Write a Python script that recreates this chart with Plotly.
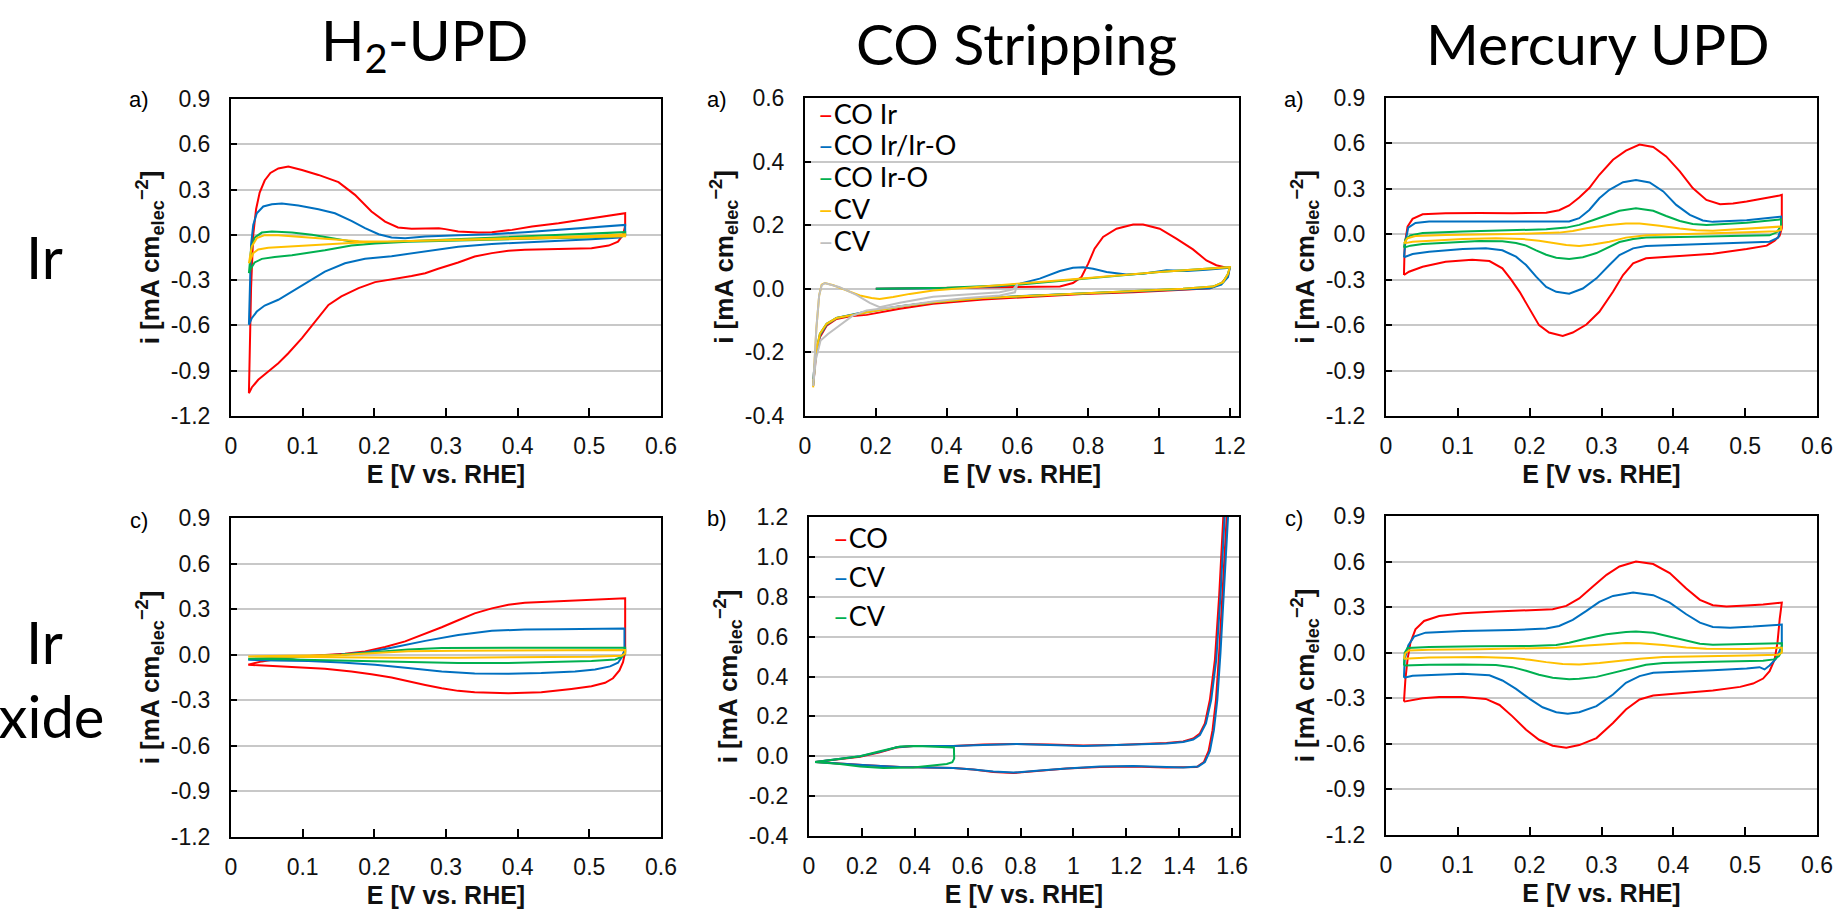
import plotly.graph_objects as go

W, H = 1841, 911
RED, BLUE, GREEN, GOLD, GRAY = "#FF0000", "#0070C0", "#00B050", "#FFC000", "#BFBFBF"

# ---------------- Panel a) H2-UPD, Ir ----------------
h2ir_red_E = [0.025, 0.026, 0.028, 0.031, 0.035, 0.040, 0.047, 0.055, 0.066, 0.080, 0.099, 0.122, 0.150, 0.173, 0.196, 0.215, 0.233, 0.252, 0.271, 0.290, 0.299, 0.317, 0.345, 0.364, 0.392, 0.420, 0.457, 0.494, 0.527, 0.550,
              0.550, 0.547, 0.540, 0.527, 0.503, 0.457, 0.410, 0.387, 0.364, 0.340, 0.317, 0.289, 0.271, 0.252, 0.224, 0.201, 0.178, 0.154, 0.136, 0.117, 0.099, 0.080, 0.066, 0.052, 0.038, 0.029, 0.025]
h2ir_red_i = [-1.049, -0.75, -0.35, 0.0, 0.17, 0.28, 0.36, 0.41, 0.44, 0.453, 0.430, 0.397, 0.349, 0.265, 0.155, 0.088, 0.049, 0.040, 0.044, 0.044, 0.038, 0.022, 0.015, 0.018, 0.033, 0.055, 0.077, 0.104, 0.128, 0.143,
              0.06, 0.0, -0.045, -0.071, -0.088, -0.093, -0.099, -0.106, -0.121, -0.143, -0.183, -0.225, -0.254, -0.272, -0.294, -0.313, -0.353, -0.408, -0.464, -0.574, -0.684, -0.784, -0.850, -0.905, -0.960, -1.011, -1.049]
h2ir_blue_E = [0.025, 0.026, 0.028, 0.031, 0.036, 0.045, 0.057, 0.071, 0.094, 0.122, 0.145, 0.168, 0.187, 0.206, 0.224, 0.243, 0.271, 0.317, 0.364, 0.410, 0.457, 0.503, 0.550,
               0.550, 0.543, 0.503, 0.457, 0.410, 0.364, 0.317, 0.271, 0.224, 0.187, 0.159, 0.131, 0.108, 0.085, 0.066, 0.047, 0.036, 0.029, 0.025]
h2ir_blue_i = [-0.596, -0.35, -0.066, 0.066, 0.143, 0.188, 0.203, 0.208, 0.194, 0.170, 0.143, 0.093, 0.044, 0.004, -0.018, -0.022, -0.011, -0.002, 0.004, 0.018, 0.033, 0.051, 0.066,
               0.0, -0.018, -0.029, -0.038, -0.046, -0.060, -0.079, -0.110, -0.141, -0.159, -0.188, -0.243, -0.309, -0.380, -0.430, -0.468, -0.508, -0.552, -0.596]
h2ir_green_E = [0.025, 0.028, 0.033, 0.043, 0.057, 0.085, 0.113, 0.140, 0.168, 0.201, 0.271, 0.364, 0.457, 0.550,
                0.550, 0.527, 0.410, 0.317, 0.247, 0.201, 0.168, 0.131, 0.108, 0.085, 0.061, 0.043, 0.033, 0.028, 0.025]
h2ir_green_i = [-0.254, -0.099, -0.018, 0.015, 0.022, 0.015, 0.0, -0.022, -0.044, -0.051, -0.038, -0.020, -0.002, 0.018,
                0.0, -0.015, -0.026, -0.038, -0.046, -0.057, -0.071, -0.102, -0.121, -0.135, -0.146, -0.159, -0.183, -0.221, -0.254]
h2ir_gold_E = [0.025, 0.029, 0.036, 0.047, 0.066, 0.094, 0.131, 0.178, 0.224, 0.317, 0.410, 0.503, 0.550,
               0.550, 0.503, 0.410, 0.317, 0.247, 0.201, 0.154, 0.108, 0.075, 0.052, 0.038, 0.031, 0.025]
h2ir_gold_i = [-0.188, -0.077, -0.022, -0.002, -0.002, -0.011, -0.026, -0.042, -0.044, -0.033, -0.020, -0.007, 0.004,
               -0.009, -0.015, -0.024, -0.033, -0.040, -0.046, -0.057, -0.071, -0.079, -0.086, -0.097, -0.121, -0.188]

# ---------------- Panel a) CO stripping, Ir ----------------
coir_red_E = [0.200, 0.400, 0.550, 0.645, 0.720, 0.757, 0.781, 0.800, 0.818, 0.842, 0.880, 0.927, 0.955, 1.002, 1.049, 1.096, 1.134, 1.162, 1.191, 1.200,
              1.195, 1.176, 1.144, 1.068, 0.927, 0.785, 0.645, 0.503, 0.362, 0.268, 0.174, 0.127, 0.089, 0.061, 0.042, 0.031, 0.023]
coir_red_i = [0.0, 0.002, 0.004, 0.004, 0.007, 0.018, 0.037, 0.079, 0.126, 0.163, 0.189, 0.202, 0.202, 0.189, 0.158, 0.124, 0.089, 0.074, 0.066, 0.068,
              0.042, 0.016, 0.002, -0.003, -0.011, -0.016, -0.024, -0.034, -0.047, -0.063, -0.082, -0.086, -0.095, -0.116, -0.152, -0.210, -0.305]
coir_blue_E = [0.200, 0.400, 0.550, 0.607, 0.663, 0.720, 0.757, 0.786, 0.814, 0.852, 0.908, 0.955, 1.021, 1.078, 1.134, 1.200,
               1.195, 1.176, 1.144, 1.068, 0.927, 0.785, 0.645, 0.503, 0.362, 0.268, 0.174, 0.127, 0.089, 0.061, 0.042, 0.031, 0.023]
coir_blue_i = [0.0, 0.002, 0.008, 0.016, 0.032, 0.056, 0.066, 0.068, 0.063, 0.053, 0.045, 0.047, 0.058, 0.056, 0.060, 0.066,
               0.037, 0.013, 0.002, -0.002, -0.008, -0.015, -0.021, -0.029, -0.042, -0.055, -0.071, -0.082, -0.092, -0.113, -0.147, -0.205, -0.284]
coir_green_E = [0.200, 0.400, 0.600, 0.800, 1.000, 1.200,
                1.195, 1.181, 1.153, 1.068, 0.927, 0.785, 0.645, 0.503, 0.362, 0.268, 0.174, 0.127, 0.089, 0.061, 0.042, 0.031, 0.023]
coir_green_i = [0.0, 0.003, 0.013, 0.034, 0.053, 0.068,
                0.047, 0.021, 0.007, 0.0, -0.007, -0.014, -0.021, -0.029, -0.042, -0.056, -0.074, -0.084, -0.092, -0.110, -0.142, -0.200, -0.305]
coir_gold_E = [0.023, 0.032, 0.040, 0.047, 0.056, 0.080, 0.117, 0.155, 0.188, 0.211, 0.249, 0.296, 0.362, 0.456, 0.600, 0.800, 1.000, 1.200,
               1.195, 1.181, 1.153, 1.068, 0.927, 0.785, 0.645, 0.503, 0.362, 0.268, 0.174, 0.127, 0.089, 0.061, 0.042, 0.031, 0.023]
coir_gold_i = [-0.310, -0.126, -0.021, 0.013, 0.018, 0.011, -0.005, -0.021, -0.029, -0.032, -0.026, -0.016, -0.005, 0.004, 0.016, 0.034, 0.053, 0.068,
               0.047, 0.021, 0.007, 0.0, -0.007, -0.014, -0.021, -0.029, -0.042, -0.056, -0.074, -0.084, -0.092, -0.110, -0.142, -0.200, -0.305]
coir_gray_E = [0.023, 0.032, 0.040, 0.047, 0.056, 0.098, 0.145, 0.183, 0.211, 0.268, 0.362, 0.456, 0.550, 0.588, 0.600,
               0.593, 0.550, 0.456, 0.362, 0.268, 0.174, 0.136, 0.098, 0.065, 0.044, 0.031, 0.023]
coir_gray_i = [-0.305, -0.126, -0.021, 0.011, 0.018, 0.005, -0.019, -0.044, -0.058, -0.044, -0.025, -0.017, -0.011, -0.002, 0.015,
               -0.011, -0.021, -0.029, -0.040, -0.055, -0.068, -0.084, -0.116, -0.142, -0.163, -0.221, -0.305]

# ---------------- Panel a) Mercury UPD, Ir ----------------
hgir_red_E = [0.025, 0.026, 0.030, 0.037, 0.051, 0.083, 0.130, 0.176, 0.223, 0.241, 0.255, 0.269, 0.283, 0.297, 0.316, 0.334, 0.353, 0.372, 0.390, 0.409, 0.427, 0.446, 0.465, 0.483, 0.502, 0.525, 0.548, 0.551,
              0.551, 0.548, 0.541, 0.530, 0.502, 0.455, 0.409, 0.362, 0.344, 0.330, 0.316, 0.297, 0.279, 0.260, 0.246, 0.227, 0.213, 0.200, 0.186, 0.174, 0.162, 0.144, 0.120, 0.083, 0.051, 0.032, 0.025]
hgir_red_i = [-0.269, -0.071, 0.051, 0.102, 0.132, 0.139, 0.141, 0.139, 0.143, 0.159, 0.190, 0.243, 0.305, 0.393, 0.492, 0.552, 0.592, 0.576, 0.514, 0.415, 0.305, 0.227, 0.199, 0.203, 0.216, 0.234, 0.256, 0.260,
              0.040, -0.009, -0.042, -0.075, -0.097, -0.128, -0.141, -0.159, -0.192, -0.269, -0.380, -0.512, -0.596, -0.649, -0.671, -0.649, -0.600, -0.490, -0.380, -0.298, -0.225, -0.177, -0.168, -0.181, -0.214, -0.247, -0.269]
hgir_blue_E = [0.025, 0.027, 0.031, 0.041, 0.060, 0.130, 0.200, 0.255, 0.269, 0.283, 0.297, 0.311, 0.330, 0.348, 0.367, 0.386, 0.404, 0.423, 0.441, 0.455, 0.502, 0.548, 0.550,
               0.550, 0.546, 0.534, 0.502, 0.455, 0.409, 0.362, 0.344, 0.325, 0.311, 0.293, 0.274, 0.255, 0.237, 0.223, 0.209, 0.195, 0.181, 0.162, 0.139, 0.107, 0.060, 0.037, 0.025]
hgir_blue_i = [-0.152, -0.049, 0.044, 0.075, 0.084, 0.084, 0.082, 0.084, 0.106, 0.161, 0.238, 0.294, 0.344, 0.358, 0.342, 0.283, 0.194, 0.128, 0.091, 0.082, 0.093, 0.113, 0.117,
               0.051, -0.022, -0.049, -0.055, -0.064, -0.071, -0.077, -0.093, -0.137, -0.203, -0.291, -0.358, -0.393, -0.380, -0.347, -0.280, -0.203, -0.148, -0.106, -0.093, -0.097, -0.115, -0.130, -0.152]
hgir_green_E = [0.025, 0.027, 0.034, 0.051, 0.107, 0.176, 0.223, 0.251, 0.269, 0.288, 0.307, 0.325, 0.348, 0.372, 0.390, 0.409, 0.427, 0.446, 0.502, 0.548, 0.550,
                0.550, 0.544, 0.534, 0.502, 0.455, 0.409, 0.362, 0.344, 0.325, 0.311, 0.293, 0.274, 0.255, 0.237, 0.223, 0.209, 0.195, 0.181, 0.162, 0.130, 0.083, 0.051, 0.034, 0.025]
hgir_green_i = [-0.088, -0.033, -0.007, 0.009, 0.018, 0.026, 0.033, 0.044, 0.062, 0.093, 0.126, 0.155, 0.172, 0.155, 0.121, 0.088, 0.068, 0.062, 0.077, 0.097, 0.099,
                0.057, 0.013, -0.007, -0.011, -0.015, -0.018, -0.022, -0.031, -0.051, -0.082, -0.124, -0.152, -0.163, -0.155, -0.135, -0.106, -0.075, -0.057, -0.046, -0.044, -0.053, -0.064, -0.075, -0.088]
hgir_gold_E = [0.025, 0.030, 0.041, 0.083, 0.176, 0.241, 0.260, 0.279, 0.307, 0.334, 0.353, 0.381, 0.409, 0.432, 0.455, 0.502, 0.548, 0.550,
               0.550, 0.544, 0.502, 0.455, 0.409, 0.362, 0.334, 0.311, 0.288, 0.269, 0.251, 0.232, 0.213, 0.190, 0.153, 0.107, 0.060, 0.037, 0.025]
hgir_gold_i = [-0.060, -0.026, -0.011, -0.004, 0.002, 0.011, 0.022, 0.040, 0.060, 0.071, 0.071, 0.057, 0.038, 0.026, 0.024, 0.035, 0.049, 0.051,
               0.029, 0.020, 0.013, 0.007, 0.0, -0.007, -0.022, -0.049, -0.068, -0.077, -0.071, -0.055, -0.042, -0.031, -0.026, -0.031, -0.042, -0.049, -0.060]

# ---------------- Panel c) H2-UPD, Ir oxide ----------------
h2ox_red_E = [0.024, 0.043, 0.066, 0.094, 0.131, 0.159, 0.187, 0.215, 0.243, 0.271, 0.294, 0.317, 0.340, 0.364, 0.387, 0.410, 0.457, 0.503, 0.550,
              0.550, 0.547, 0.542, 0.533, 0.522, 0.503, 0.475, 0.433, 0.387, 0.340, 0.317, 0.294, 0.271, 0.247, 0.224, 0.196, 0.168, 0.131, 0.085, 0.052, 0.024]
h2ox_red_i = [-0.066, -0.044, -0.026, -0.013, -0.002, 0.007, 0.022, 0.051, 0.088, 0.137, 0.181, 0.227, 0.272, 0.305, 0.329, 0.342, 0.353, 0.360, 0.371,
              0.018, -0.049, -0.104, -0.155, -0.185, -0.208, -0.225, -0.247, -0.254, -0.247, -0.238, -0.221, -0.199, -0.174, -0.150, -0.128, -0.110, -0.093, -0.082, -0.073, -0.066]
h2ox_blue_E = [0.024, 0.061, 0.108, 0.154, 0.187, 0.224, 0.271, 0.317, 0.364, 0.410, 0.457, 0.503, 0.549,
               0.549, 0.545, 0.540, 0.529, 0.508, 0.480, 0.433, 0.387, 0.340, 0.294, 0.247, 0.201, 0.154, 0.108, 0.061, 0.024]
h2ox_blue_i = [-0.033, -0.024, -0.011, 0.002, 0.015, 0.046, 0.091, 0.130, 0.157, 0.166, 0.168, 0.168, 0.172,
               0.029, -0.018, -0.053, -0.077, -0.097, -0.110, -0.121, -0.126, -0.124, -0.110, -0.088, -0.066, -0.051, -0.042, -0.038, -0.033]
h2ox_green_E = [0.024, 0.085, 0.154, 0.201, 0.247, 0.294, 0.364, 0.457, 0.550,
                0.550, 0.545, 0.536, 0.503, 0.457, 0.387, 0.317, 0.247, 0.178, 0.108, 0.024]
h2ox_green_i = [-0.026, -0.018, 0.0, 0.020, 0.035, 0.044, 0.046, 0.046, 0.046,
                0.007, -0.015, -0.031, -0.042, -0.049, -0.055, -0.055, -0.049, -0.040, -0.033, -0.026]
h2ox_gold_E = [0.024, 0.085, 0.154, 0.201, 0.247, 0.317, 0.410, 0.503, 0.550,
               0.550, 0.545, 0.503, 0.410, 0.317, 0.224, 0.131, 0.061, 0.024]
h2ox_gold_i = [-0.011, -0.009, -0.002, 0.011, 0.022, 0.026, 0.029, 0.029, 0.031,
               0.009, -0.007, -0.013, -0.018, -0.020, -0.020, -0.018, -0.013, -0.011]

# ---------------- Panel b) CO stripping, Ir oxide ----------------
coox_red_E = [0.023, 0.092, 0.193, 0.268, 0.331, 0.394, 0.546, 0.659, 0.785, 0.911, 1.037, 1.163, 1.289, 1.352, 1.415, 1.453, 1.478, 1.497, 1.516, 1.535, 1.551, 1.564, 1.569,
              1.582, 1.574, 1.564, 1.551, 1.539, 1.526, 1.511, 1.493, 1.466, 1.415, 1.352, 1.226, 1.100, 0.974, 0.873, 0.773, 0.697, 0.621, 0.546, 0.470, 0.344, 0.218, 0.117, 0.023]
coox_red_i = [-0.029, -0.019, -0.002, 0.020, 0.044, 0.052, 0.052, 0.059, 0.062, 0.059, 0.054, 0.057, 0.061, 0.066, 0.074, 0.089, 0.114, 0.165, 0.283, 0.485, 0.805, 1.125, 1.26,
              1.26, 1.057, 0.805, 0.519, 0.283, 0.131, 0.027, -0.029, -0.054, -0.057, -0.057, -0.051, -0.054, -0.062, -0.074, -0.084, -0.079, -0.066, -0.059, -0.057, -0.054, -0.045, -0.035, -0.029]
coox_blue_E = [0.023, 0.092, 0.193, 0.268, 0.331, 0.394, 0.546, 0.659, 0.785, 0.911, 1.037, 1.163, 1.289, 1.352, 1.415, 1.453, 1.478, 1.501, 1.521, 1.540, 1.556, 1.569, 1.574,
               1.587, 1.579, 1.569, 1.556, 1.544, 1.531, 1.516, 1.497, 1.472, 1.415, 1.352, 1.226, 1.100, 0.974, 0.873, 0.773, 0.697, 0.621, 0.546, 0.470, 0.344, 0.218, 0.117, 0.023]
coox_blue_i = [-0.029, -0.017, 0.0, 0.022, 0.045, 0.052, 0.051, 0.057, 0.061, 0.057, 0.052, 0.056, 0.059, 0.064, 0.071, 0.084, 0.106, 0.165, 0.283, 0.485, 0.805, 1.125, 1.26,
               1.26, 1.057, 0.805, 0.519, 0.283, 0.131, 0.027, -0.029, -0.051, -0.056, -0.054, -0.049, -0.052, -0.061, -0.072, -0.082, -0.077, -0.066, -0.059, -0.057, -0.054, -0.045, -0.035, -0.029]
coox_green_E = [0.023, 0.092, 0.193, 0.268, 0.344, 0.407, 0.470, 0.548,
                0.549, 0.542, 0.521, 0.470, 0.394, 0.281, 0.193, 0.117, 0.023]
coox_green_i = [-0.029, -0.017, 0.0, 0.025, 0.049, 0.052, 0.047, 0.044,
                -0.012, -0.030, -0.039, -0.047, -0.057, -0.059, -0.051, -0.039, -0.029]

# ---------------- Panel c) Mercury UPD, Ir oxide ----------------
hgox_red_E = [0.025, 0.027, 0.030, 0.034, 0.041, 0.053, 0.074, 0.107, 0.153, 0.200, 0.232, 0.251, 0.269, 0.288, 0.307, 0.325, 0.348, 0.372, 0.395, 0.418, 0.437, 0.455, 0.474, 0.502, 0.525, 0.551,
              0.548, 0.545, 0.541, 0.534, 0.525, 0.511, 0.493, 0.455, 0.409, 0.372, 0.353, 0.334, 0.316, 0.293, 0.269, 0.251, 0.232, 0.213, 0.195, 0.176, 0.158, 0.139, 0.107, 0.074, 0.051, 0.025]
hgox_red_i = [-0.322, -0.176, -0.044, 0.066, 0.154, 0.209, 0.242, 0.260, 0.271, 0.280, 0.286, 0.308, 0.357, 0.436, 0.513, 0.568, 0.601, 0.584, 0.524, 0.423, 0.348, 0.313, 0.304, 0.311, 0.317, 0.330,
              0.220, 0.066, -0.044, -0.121, -0.170, -0.203, -0.225, -0.249, -0.267, -0.282, -0.308, -0.374, -0.463, -0.562, -0.608, -0.626, -0.612, -0.573, -0.507, -0.419, -0.344, -0.304, -0.291, -0.291, -0.300, -0.322]
hgox_blue_E = [0.025, 0.026, 0.031, 0.039, 0.055, 0.107, 0.176, 0.223, 0.241, 0.260, 0.279, 0.297, 0.316, 0.344, 0.372, 0.395, 0.418, 0.437, 0.455, 0.479, 0.511, 0.551,
               0.551, 0.548, 0.543, 0.534, 0.527, 0.520, 0.502, 0.455, 0.409, 0.372, 0.353, 0.334, 0.316, 0.293, 0.269, 0.253, 0.237, 0.218, 0.200, 0.181, 0.162, 0.144, 0.107, 0.060, 0.037, 0.025]
hgox_blue_i = [-0.165, -0.044, 0.048, 0.106, 0.132, 0.143, 0.150, 0.159, 0.176, 0.216, 0.275, 0.335, 0.374, 0.396, 0.379, 0.330, 0.253, 0.198, 0.170, 0.165, 0.172, 0.185,
               0.044, 0.011, -0.040, -0.084, -0.110, -0.095, -0.104, -0.115, -0.123, -0.132, -0.154, -0.198, -0.275, -0.352, -0.392, -0.401, -0.392, -0.359, -0.304, -0.238, -0.183, -0.148, -0.139, -0.145, -0.152, -0.165]
hgox_green_E = [0.025, 0.026, 0.030, 0.060, 0.130, 0.200, 0.237, 0.255, 0.279, 0.307, 0.334, 0.348, 0.372, 0.395, 0.418, 0.437, 0.455, 0.502, 0.551,
                0.551, 0.547, 0.540, 0.525, 0.455, 0.386, 0.362, 0.339, 0.316, 0.293, 0.269, 0.255, 0.232, 0.213, 0.195, 0.176, 0.153, 0.107, 0.060, 0.025]
hgox_green_i = [-0.084, 0.0, 0.031, 0.037, 0.042, 0.044, 0.051, 0.066, 0.093, 0.121, 0.137, 0.139, 0.132, 0.106, 0.077, 0.059, 0.053, 0.055, 0.062,
                0.011, -0.022, -0.044, -0.053, -0.059, -0.068, -0.079, -0.104, -0.134, -0.159, -0.172, -0.174, -0.165, -0.145, -0.119, -0.095, -0.081, -0.077, -0.079, -0.084]
hgox_gold_E = [0.025, 0.027, 0.032, 0.060, 0.130, 0.200, 0.237, 0.269, 0.307, 0.334, 0.353, 0.386, 0.418, 0.446, 0.502, 0.551,
               0.551, 0.546, 0.502, 0.455, 0.386, 0.353, 0.325, 0.297, 0.269, 0.246, 0.223, 0.200, 0.176, 0.130, 0.060, 0.025]
hgox_gold_i = [-0.040, -0.004, 0.015, 0.020, 0.022, 0.026, 0.033, 0.044, 0.057, 0.064, 0.062, 0.051, 0.035, 0.026, 0.024, 0.033,
               0.0, -0.013, -0.018, -0.022, -0.029, -0.040, -0.055, -0.068, -0.077, -0.075, -0.062, -0.046, -0.035, -0.029, -0.031, -0.040]

# ---------------- Axis ticks and labels ----------------
upd_x_ticks = [0, 0.1, 0.2, 0.3, 0.4, 0.5, 0.6]
upd_x_labels = ["0", "0.1", "0.2", "0.3", "0.4", "0.5", "0.6"]
upd_y_ticks = [-1.2, -0.9, -0.6, -0.3, 0.0, 0.3, 0.6, 0.9]
upd_y_labels = ["-1.2", "-0.9", "-0.6", "-0.3", "0.0", "0.3", "0.6", "0.9"]
co_top_x_ticks = [0, 0.2, 0.4, 0.6, 0.8, 1.0, 1.2]
co_top_x_labels = ["0", "0.2", "0.4", "0.6", "0.8", "1", "1.2"]
co_top_y_ticks = [-0.4, -0.2, 0.0, 0.2, 0.4, 0.6]
co_top_y_labels = ["-0.4", "-0.2", "0.0", "0.2", "0.4", "0.6"]
co_bot_x_ticks = [0, 0.2, 0.4, 0.6, 0.8, 1.0, 1.2, 1.4, 1.6]
co_bot_x_labels = ["0", "0.2", "0.4", "0.6", "0.8", "1", "1.2", "1.4", "1.6"]
co_bot_y_ticks = [-0.4, -0.2, 0.0, 0.2, 0.4, 0.6, 0.8, 1.0, 1.2]
co_bot_y_labels = ["-0.4", "-0.2", "0.0", "0.2", "0.4", "0.6", "0.8", "1.0", "1.2"]

column_titles = ["H<sub>2</sub>-UPD", "CO Stripping", "Mercury UPD"]
row_titles = ["Ir", "Ir", "oxide"]
panel_letters = ["a)", "a)", "a)", "c)", "b)", "c)"]
co_top_legend = ["CO Ir", "CO Ir/Ir-O", "CO Ir-O", "CV", "CV"]
co_bot_legend = ["CO", "CV", "CV"]

# ---------------- Layout geometry (pixels) ----------------
panels = [  # (x0, x1, y0_top, y1_bottom)
    (231, 661, 99, 416),
    (805, 1239, 98, 416),
    (1386, 1817, 98, 416),
    (231, 661, 518, 837),
    (809, 1239, 517, 836),
    (1386, 1817, 516, 835),
]

fig = go.Figure()

series = [
    (1, [(h2ir_red_E, h2ir_red_i, RED), (h2ir_blue_E, h2ir_blue_i, BLUE), (h2ir_green_E, h2ir_green_i, GREEN), (h2ir_gold_E, h2ir_gold_i, GOLD)]),
    (2, [(coir_red_E, coir_red_i, RED), (coir_blue_E, coir_blue_i, BLUE), (coir_green_E, coir_green_i, GREEN), (coir_gold_E, coir_gold_i, GOLD), (coir_gray_E, coir_gray_i, GRAY)]),
    (3, [(hgir_red_E, hgir_red_i, RED), (hgir_blue_E, hgir_blue_i, BLUE), (hgir_green_E, hgir_green_i, GREEN), (hgir_gold_E, hgir_gold_i, GOLD)]),
    (4, [(h2ox_red_E, h2ox_red_i, RED), (h2ox_blue_E, h2ox_blue_i, BLUE), (h2ox_green_E, h2ox_green_i, GREEN), (h2ox_gold_E, h2ox_gold_i, GOLD)]),
    (5, [(coox_red_E, coox_red_i, RED), (coox_blue_E, coox_blue_i, BLUE), (coox_green_E, coox_green_i, GREEN)]),
    (6, [(hgox_red_E, hgox_red_i, RED), (hgox_blue_E, hgox_blue_i, BLUE), (hgox_green_E, hgox_green_i, GREEN), (hgox_gold_E, hgox_gold_i, GOLD)]),
]
for n, lst in series:
    xa = "x" if n == 1 else f"x{n}"
    ya = "y" if n == 1 else f"y{n}"
    for E, I, c in lst:
        fig.add_trace(go.Scatter(x=E, y=I, mode="lines", line=dict(color=c, width=2),
                                 xaxis=xa, yaxis=ya, showlegend=False, hoverinfo="skip"))

axis_specs = [
    ([0, 0.6], upd_x_ticks, upd_x_labels, [-1.2, 0.9], upd_y_ticks, upd_y_labels),
    ([0, 1.226], co_top_x_ticks, co_top_x_labels, [-0.4, 0.6], co_top_y_ticks, co_top_y_labels),
    ([0, 0.6], upd_x_ticks, upd_x_labels, [-1.2, 0.9], upd_y_ticks, upd_y_labels),
    ([0, 0.6], upd_x_ticks, upd_x_labels, [-1.2, 0.9], upd_y_ticks, upd_y_labels),
    ([0, 1.626], co_bot_x_ticks, co_bot_x_labels, [-0.4, 1.2], co_bot_y_ticks, co_bot_y_labels),
    ([0, 0.6], upd_x_ticks, upd_x_labels, [-1.2, 0.9], upd_y_ticks, upd_y_labels),
]

TICKFONT = dict(family="Arial, Liberation Sans", size=23, color="#111111")
XTITLEFONT = dict(family="Arial, Liberation Sans", size=25, color="#111111")
YTITLEFONT = dict(family="Arial, Liberation Sans", size=26, color="#111111")
ytitle = "<b>i [mA cm<sub>elec</sub><sup>−2</sup>]</b>"
xtitle = "<b>E [V vs. RHE]</b>"

lay = {}
for k, ((x0, x1, yt, yb), (xr, xt, xl, yr, yt_, yl)) in enumerate(zip(panels, axis_specs), start=1):
    sx = "xaxis" if k == 1 else f"xaxis{k}"
    sy = "yaxis" if k == 1 else f"yaxis{k}"
    anc_x = "y" if k == 1 else f"y{k}"
    anc_y = "x" if k == 1 else f"x{k}"
    lay[sx] = dict(domain=[x0 / W, x1 / W], range=xr, anchor=anc_x, tickvals=xt, ticktext=xl,
                   automargin=False,
                   showgrid=False, zeroline=False, showline=True, mirror=True, linecolor="black", linewidth=2,
                   ticks="inside", ticklen=8, tickwidth=1.5, tickcolor="black", tickfont=TICKFONT,
                   ticklabelstandoff=8,
                   title=dict(text=xtitle, font=XTITLEFONT, standoff=8))
    lay[sy] = dict(domain=[1 - yb / H, 1 - yt / H], range=yr, anchor=anc_y, tickvals=yt_, ticktext=yl,
                   automargin=False,
                   showgrid=True, gridcolor="#C8C8C8", gridwidth=1.5, zeroline=False,
                   showline=True, mirror=True, linecolor="black", linewidth=2,
                   ticks="inside", ticklen=6, tickwidth=1.5, tickcolor="black", tickfont=TICKFONT,
                   ticklabelstandoff=14,
                   title=dict(text=ytitle, font=YTITLEFONT, standoff=4))

ann = []
def A(text, px, py, size, family, xanchor="center", color="black"):
    ann.append(dict(text=text, x=px / W, y=1 - py / H, xref="paper", yref="paper",
                    xanchor=xanchor, yanchor="middle", showarrow=False,
                    font=dict(size=size, family=family, color=color)))

TF = "Lato, Open Sans, sans-serif"
for t, cx in zip(column_titles, [424, 1016, 1598]):
    A(t, cx, 43, 57, TF)
for t, (cx, cy) in zip(row_titles, [(44, 257), (44, 641), (36, 715)]):
    A(t, cx, cy, 58, TF)
for t, (cx, cy) in zip(panel_letters, [(139, 100), (717, 99), (1294, 99), (139, 520), (717, 518), (1294, 518)]):
    A(t, cx, cy, 22, "Arial, Liberation Sans")

top_colors = [RED, BLUE, GREEN, GOLD, GRAY]
for j, (name, c) in enumerate(zip(co_top_legend, top_colors)):
    A(f"<span style='color:{c}'>–</span>{name}", 816, 113 + 31.8 * j, 27, TF, xanchor="left")
bot_colors = [RED, BLUE, GREEN]
for j, (name, c) in enumerate(zip(co_bot_legend, bot_colors)):
    A(f"<span style='color:{c}'>–</span>{name}", 831, 537 + 39 * j, 27, TF, xanchor="left")

fig.update_layout(width=W, height=H, margin=dict(l=0, r=0, t=0, b=0, autoexpand=False),
                  paper_bgcolor="white", plot_bgcolor="white", showlegend=False,
                  annotations=ann, **lay)
fig.write_html("out.html", config={"displayModeBar": False},
               post_script="document.body.style.margin='0';document.body.style.overflow='hidden';")
